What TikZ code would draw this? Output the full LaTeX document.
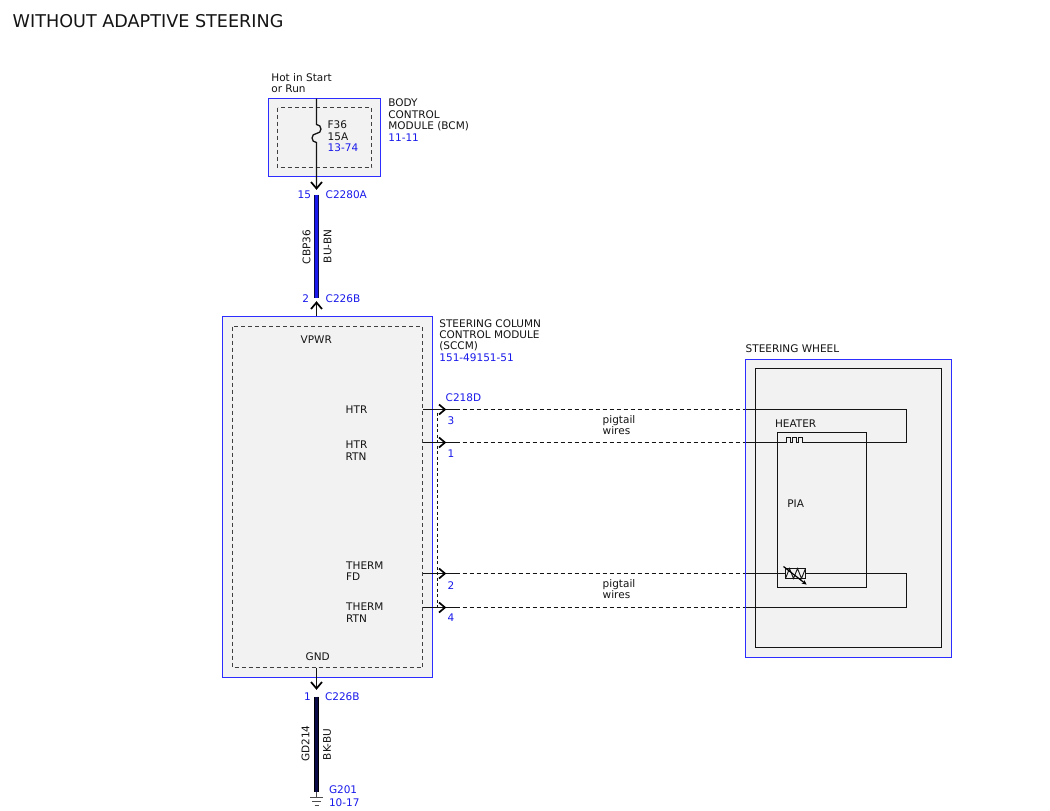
\documentclass[tikz,border=0pt]{standalone}
\usepackage{fontspec}
\setmainfont{DejaVu Sans}
\usetikzlibrary{arrows.meta}
\definecolor{wblue}{RGB}{25,25,235}
\definecolor{bxblue}{RGB}{45,45,255}
\definecolor{bxfill}{RGB}{242,242,242}
\definecolor{navy}{RGB}{10,10,70}
\definecolor{ink}{RGB}{20,20,20}
\tikzset{
  lbl/.style={font=\fontsize{10.5}{11.5}\selectfont, inner sep=0pt, anchor=base west, text=ink},
  blbl/.style={lbl, text=wblue},
  vlbl/.style={lbl, anchor=center, rotate=90},
  modbox/.style={draw=bxblue, line width=1.6pt, fill=bxfill},
  dbox/.style={draw=black!75, line width=1.2pt, dash pattern=on 4pt off 3pt},
  wire/.style={draw=ink, line width=1.3pt},
  dwire/.style={draw=ink, line width=1.3pt, dash pattern=on 4pt off 3pt},
  chev/.style={draw=black, line width=1.7pt},
  thickouter/.style={draw=navy, line width=5.5pt},
  thickinner/.style={line width=3.8pt},
}
\begin{document}
\begin{tikzpicture}[x=1pt,y=-1pt]
\useasboundingbox (-0.5,-0.5) rectangle (1049.5,810.5);
\fill[white] (-0.5,-0.5) rectangle (1049.5,810.5);

% title
\node[lbl, font=\fontsize{17.6}{20}\selectfont] (title) at (12,27) {WITHOUT ADAPTIVE STEERING};

% ---------------- BCM ----------------
\draw[modbox] (268,98) rectangle (380,176);
\draw[dbox] (277,107) rectangle (371,167);
\node[lbl] (hot1) at (270.7,81) {Hot in Start};
\node[lbl] (hot2) at (270.7,92) {or Run};
\node[lbl] (bcm1) at (387.7,106) {BODY};
\node[lbl] (bcm2) at (387.7,117.5) {CONTROL};
\node[lbl] (bcm3) at (387.7,129) {MODULE (BCM)};
\node[blbl] (bcm4) at (387.7,141) {11-11};
\node[lbl] (f1) at (327,128) {F36};
\node[lbl] (f2) at (327,139.7) {15A};
\node[blbl] (f3) at (327,151.4) {13-74};

\coordinate (bcmtop) at (316,98);
\coordinate (fusetop) at (316,124);
\coordinate (fusebot) at (316,142);
\coordinate (c2280tip) at (316,188);
\draw[wire] (bcmtop) -- (fusetop) arc (-90:90:4.5) arc (270:90:4.5) -- (fusebot) -- (c2280tip);
\draw[chev] ([shift={(-5.5,-6.5)}]c2280tip) -- (c2280tip) -- ([shift={(5.5,-6.5)}]c2280tip);

% blue wire
\coordinate (bw1) at (316,194);
\coordinate (bw2) at (316,297);
\draw[thickouter] (bw1) -- (bw2);
\draw[thickinner, wblue] (bw1) -- (bw2);
\node[blbl] (p15) at (297,198) {15};
\node[blbl] (c2280) at (325,198) {C2280A};
\node[vlbl] (cbp) at (306,246.5) {CBP36};
\node[vlbl] (bubn) at (327,246) {BU-BN};
\node[blbl] (p2top) at (301.7,302) {2};
\node[blbl] (c226a) at (325,302) {C226B};

\coordinate (c226tip) at (316,302);
\coordinate (vpwrin) at (316,326);
\draw[wire] (c226tip) -- (vpwrin);
\draw[chev] ([shift={(-5.5,6.5)}]c226tip) -- (c226tip) -- ([shift={(5.5,6.5)}]c226tip);

% ---------------- SCCM ----------------
\draw[modbox] (222,316) rectangle (432,677);
\draw[dbox] (232,326) rectangle (422,667);
\node[lbl] (s1) at (438.7,327) {STEERING COLUMN};
\node[lbl] (s2) at (438.7,338) {CONTROL MODULE};
\node[lbl] (s3) at (438.7,349) {(SCCM)};
\node[blbl] (s4) at (438.7,360.5) {151-49151-51};
\node[lbl] (vpwr) at (300,343) {VPWR};
\node[lbl] (htr) at (345,413) {HTR};
\node[lbl] (htrr1) at (345,448) {HTR};
\node[lbl] (htrr2) at (345,459.5) {RTN};
\node[lbl] (thf1) at (345.5,568.5) {THERM};
\node[lbl] (thf2) at (345.5,580) {FD};
\node[lbl] (thr1) at (345.5,610) {THERM};
\node[lbl] (thr2) at (345.5,621.5) {RTN};
\node[lbl] (gnd) at (305,660) {GND};

% connector C218D
\node[blbl] (c218) at (445,401) {C218D};
\node[blbl] (n3) at (447,424) {3};
\node[blbl] (n1) at (447,457) {1};
\node[blbl] (n2) at (447,588.5) {2};
\node[blbl] (n4) at (447,621) {4};
\coordinate (cv1) at (437,412);
\coordinate (cv2) at (437,607);
\draw[dwire, line width=1.1pt, dash pattern=on 3pt off 2.5pt] (cv1) -- (cv2);

\foreach \nm/\yy in {a/409, b/442, c/573, d/607} {
  \coordinate (s\nm) at (422,\yy);
  \coordinate (t\nm) at (444.5,\yy);
  \coordinate (e\nm) at (455,\yy);
  \coordinate (w\nm) at (745,\yy);
  \draw[wire] (s\nm) -- (e\nm);
  \draw[dwire] (e\nm) -- (w\nm);
  \draw[chev] ([shift={(-6,-5)}]t\nm) -- (t\nm) -- ([shift={(-6,5)}]t\nm);
}
\node[lbl] (pg1) at (602,422.5) {pigtail};
\node[lbl] (pg2) at (602,433.5) {wires};
\node[lbl] (pg3) at (602,587) {pigtail};
\node[lbl] (pg4) at (602,598) {wires};

% ---------------- STEERING WHEEL ----------------
\draw[modbox] (745,359) rectangle (951,657);
\draw[draw=ink, line width=1.3pt, fill=bxfill] (755,368) rectangle (941,647);
\draw[draw=ink, line width=1.3pt] (777,432) rectangle (866,587);
\node[lbl] (sw) at (745,352) {STEERING WHEEL};
\node[lbl] (heater) at (774.3,426.7) {HEATER};
\node[lbl] (pia) at (786.7,506.7) {PIA};

% heater loop
\coordinate (h1) at (784,442);
\coordinate (h2) at (805,442);
\coordinate (lr1) at (906,409);
\coordinate (lr2) at (906,442);
\draw[wire] (wa) -- (lr1) -- (lr2) -- (h2);
\draw[wire] (wb) -- (h1);
\draw[wire, line width=1pt] (h1) -- (786,442) -- (786,437) -- (790,437) -- (790,442) -- (792,442) -- (792,437) -- (796,437) -- (796,442) -- (798,442) -- (798,437) -- (802,437) -- (802,442) -- (h2);

% thermistor loop
\coordinate (th1) at (785,573);
\coordinate (th2) at (805,573);
\coordinate (lr3) at (906,573);
\coordinate (lr4) at (906,607);
\draw[wire] (wc) -- (th1);
\draw[wire] (th2) -- (lr3) -- (lr4) -- (wd);
\draw[wire, line width=1pt] (785,568) rectangle (805,578);
\draw[wire, line width=0.9pt] (785,578) -- (789,568) -- (793,578) -- (797,568) -- (801,578) -- (805,568);
\draw[draw=black, line width=1.2pt, -{Stealth[length=4.5pt,width=4.5pt]}] (783,566) -- (806,584);

% ---------------- GROUND ----------------
\coordinate (gndout) at (316,667);
\coordinate (gtip) at (316,688);
\draw[wire] (gndout) -- (gtip);
\draw[chev] ([shift={(-5.5,-6.5)}]gtip) -- (gtip) -- ([shift={(5.5,-6.5)}]gtip);
\node[blbl] (g1) at (303.3,700) {1};
\node[blbl] (c226b) at (324.3,700) {C226B};
\coordinate (gw1) at (316,696);
\coordinate (gw2) at (316,791);
\draw[draw=black, line width=5.8pt] (gw1) -- (gw2);
\draw[navy, line width=3.6pt] (gw1) -- (gw2);
\node[vlbl] (gd) at (305,743) {GD214};
\node[vlbl] (bkbu) at (326.5,744) {BK-BU};
\coordinate (gsym) at (316,797);
\draw[wire, draw=black!70, line width=1pt] (gw2) -- (gsym);
\draw[wire, draw=black!70, line width=1pt] ([xshift=-6.5]gsym) -- ([xshift=6.5]gsym);
\draw[wire, draw=black!70, line width=1pt] ([shift={(-4.5,4)}]gsym) -- ([shift={(4.5,4)}]gsym);
\draw[wire, draw=black!70, line width=1pt] ([shift={(-2,8)}]gsym) -- ([shift={(2,8)}]gsym);
\node[blbl] (g201) at (328.3,793) {G201};
\node[blbl] (g1017) at (328.3,805.5) {10-17};
\end{tikzpicture}
\end{document}
